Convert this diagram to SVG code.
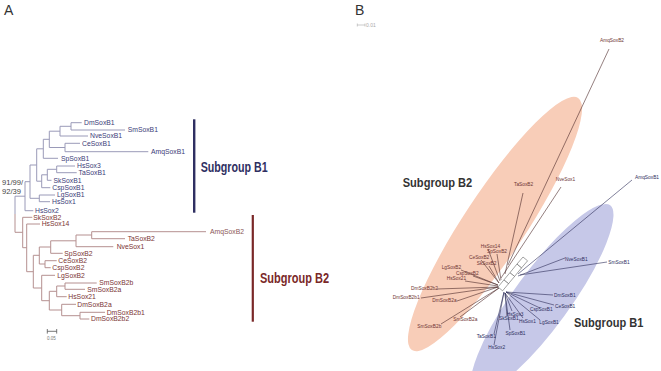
<svg xmlns="http://www.w3.org/2000/svg" width="661" height="371" viewBox="0 0 661 371">
<style>
text{font-family:"Liberation Sans",Arial,sans-serif}
.pl{font-size:14px;fill:#333}
.t1{font-size:6.8px;fill:#3b3b78}
.t2{font-size:6.8px;fill:#7b3434}
.bs{font-size:7.6px;fill:#444}
.l1{fill:none;stroke:#9a9ab8;stroke-width:1}
.l2{fill:none;stroke:#b59090;stroke-width:1}
.sg1{font-size:14px;font-weight:bold;fill:#2f2f62}
.sg2{font-size:14px;font-weight:bold;fill:#7a2828}
.ns{font-size:12px;font-weight:bold;fill:#333}
.n1{font-size:4.8px;fill:#2e2e5e}
.n2{font-size:4.8px;fill:#6e3434}
.c1{fill:none;stroke:#2c2c58;stroke-width:0.6}
.c2{fill:none;stroke:#4e2a2a;stroke-width:0.6}
.box{fill:#fff;stroke:#444;stroke-width:0.5}
</style>
<rect width="661" height="371" fill="#fff"/>
<text class="pl" x="4" y="15">A</text>
<text class="pl" x="355" y="15">B</text>

<!-- Panel A connectors -->
<g id="tree-connectors">
<path class="l1" d="M71,122.7V130M71,122.7H81.7M71,130H125M60,126.3H71M60,126.3V136H88M65,143.3V151.7M65,143.3H80M65,151.7H148.3M49.3,131.2H60M49.3,131.2V147.5H65M43.3,139.3H49.3M43.3,139.3V158.3H58M56.7,166V172.7M56.7,166H75M56.7,172.7H76.7M47.3,169.3H56.7M47.3,169.3V180.3H51.5M41.7,174.8H47.3M41.7,174.8V187.7H50.3M36.7,148.8H43.3M36.7,148.8V181.2H41.7M39.3,195V201.7M39.3,195H55M39.3,201.7H50M30,165H36.7M30,165V198.3H39.3M25,181.7H30M25,181.7V210.7H33.3M15,196.2H25M15,196.2V214"/>
<path class="l2" d="M15,214V232.3H22.7M22.7,217.3V247.7M22.7,217.3H32.3M22.7,247.7H26.7M26.7,224V271.7M26.7,224H40M26.7,271.7H33.3M33.3,255.3V288M33.3,255.3H39.3M39.3,247V264M39.3,247H50.7M50.7,240.8V253.3M50.7,253.3H62.7M50.7,240.8H76M76,235V246.7M76,246.7H113.3M76,235H91.7M91.7,231.7V238.7M91.7,238.7H125M91.7,231.7H206M39.3,264H45M45,260.7V267.7M45,260.7H56.7M45,267.7H50.7M33.3,288H41.7M41.7,275.3V300.7M41.7,275.3H55M41.7,300.7H49.3M49.3,291.3V310M49.3,291.3H56.7M56.7,286V296.7M56.7,296.7H66.7M56.7,286H65M65,283V289.3M65,283H96.7M65,289.3H85M49.3,310H61.7M61.7,304.3V315.7M61.7,304.3H76M61.7,315.7H80M80,312.3V319M80,312.3H105M80,319H89.3"/>
<path d="M47.3,331.3H56.7M47.3,329V333.6M56.7,329V333.6" stroke="#555" stroke-width="0.8" fill="none"/>
</g>
<text x="47" y="339.5" font-size="4.5" fill="#777" font-family="Liberation Sans, sans-serif">0.05</text>
<text class="bs" x="2" y="184.5">91/99/</text>
<text class="bs" x="2" y="194">92/39</text>

<!-- Panel A leaves -->
<g id="a-DmSoxB1"><text class="t1" x="84" y="125.1">DmSoxB1</text></g>
<g id="a-SmSoxB1"><text class="t1" x="127.7" y="132.4">SmSoxB1</text></g>
<g id="a-NveSoxB1"><text class="t1" x="90" y="138.4">NveSoxB1</text></g>
<g id="a-CeSoxB1"><text class="t1" x="82" y="145.7">CeSoxB1</text></g>
<g id="a-AmqSoxB1"><text class="t1" x="151" y="154.1">AmqSoxB1</text></g>
<g id="a-SpSoxB1"><text class="t1" x="61" y="160.7">SpSoxB1</text></g>
<g id="a-HsSox3"><text class="t1" x="77" y="168.4">HsSox3</text></g>
<g id="a-TaSoxB1"><text class="t1" x="78.5" y="175.1">TaSoxB1</text></g>
<g id="a-SkSoxB1"><text class="t1" x="53.5" y="182.7">SkSoxB1</text></g>
<g id="a-CspSoxB1"><text class="t1" x="52.3" y="190.1">CspSoxB1</text></g>
<g id="a-LgSoxB1"><text class="t1" x="57" y="197.4">LgSoxB1</text></g>
<g id="a-HsSox1"><text class="t1" x="52" y="204.1">HsSox1</text></g>
<g id="a-HsSox2"><text class="t1" x="35" y="213.1">HsSox2</text></g>
<g id="a-SkSoxB2"><text class="t2" x="33.3" y="219.7">SkSoxB2</text></g>
<g id="a-HsSox14"><text class="t2" x="41.7" y="226.4">HsSox14</text></g>
<g id="a-AmqSoxB2"><text class="t2" x="210" y="234.1" style="fill:#8a5555">AmqSoxB2</text></g>
<g id="a-TaSoxB2"><text class="t2" x="127.7" y="241.1">TaSoxB2</text></g>
<g id="a-NveSox1"><text class="t2" x="116.7" y="249.1">NveSox1</text></g>
<g id="a-SpSoxB2"><text class="t2" x="64.3" y="255.7">SpSoxB2</text></g>
<g id="a-CeSoxB2"><text class="t2" x="58.3" y="263.1">CeSoxB2</text></g>
<g id="a-CspSoxB2"><text class="t2" x="52.3" y="270.1">CspSoxB2</text></g>
<g id="a-LgSoxB2"><text class="t2" x="57.3" y="277.7">LgSoxB2</text></g>
<g id="a-SmSoxB2b"><text class="t2" x="99.3" y="285.4">SmSoxB2b</text></g>
<g id="a-SmSoxB2a"><text class="t2" x="87.3" y="291.7">SmSoxB2a</text></g>
<g id="a-HsSox21"><text class="t2" x="68.3" y="299.1">HsSox21</text></g>
<g id="a-DmSoxB2a"><text class="t2" x="77.3" y="306.7">DmSoxB2a</text></g>
<g id="a-DmSoxB2b1"><text class="t2" x="106.7" y="314.7">DmSoxB2b1</text></g>
<g id="a-DmSoxB2b2"><text class="t2" x="91" y="321.4">DmSoxB2b2</text></g>

<g id="a-group-B1">
<rect x="193" y="119.3" width="2.4" height="93.4" fill="#2f2f62"/>
<text class="sg1" x="200.7" y="171.7" textLength="67" lengthAdjust="spacingAndGlyphs">Subgroup B1</text>
</g>
<g id="a-group-B2">
<rect x="251.7" y="215" width="2.2" height="106.7" fill="#7a2828"/>
<text class="sg2" x="260" y="283.3" textLength="69" lengthAdjust="spacingAndGlyphs">Subgroup B2</text>
</g>

<!-- Panel B -->
<path d="M357.3,25H365M357.3,23.5V26.5M365,23.5V26.5" stroke="#aaa" stroke-width="0.6" fill="none"/>
<text x="366" y="26.8" font-size="5" fill="#aaa" font-family="Liberation Sans, sans-serif">0.01</text>

<g id="b-area-B2"><ellipse cx="495" cy="224" rx="151" ry="31" transform="rotate(-56.6 495 224)" fill="#f8cdb8"/></g>
<g id="b-area-B1"><ellipse cx="542" cy="299" rx="118" ry="30" transform="rotate(-54 542 299)" fill="#c6c8e8" stroke="#fff" stroke-width="4"/></g>

<g id="network-connectors">
<polygon class="box" points="498,287 504,279.8 508.6,283.6 502.6,290.8"/>
<polygon class="box" points="504,279.8 510,272.6 514.6,276.4 508.6,283.6"/>
<polygon class="box" points="510,272.6 517,264 521.6,267.8 514.6,276.4"/>
<polygon class="box" points="517,264 523,257 527.6,260.8 521.6,267.8"/>
<path class="c2" d="M508,265L609,49M505,274L523,193M501,278L561,187M500,281L488,249M501,280L497,254M499,283L481,260M499,283L489,266M498,285L461,270M498,285L473,276M498,286L465,281M498,287L437,289M498,287L421,298M498,287L457,301M499,288L460,317M499,288L441,324"/>
<path class="c1" d="M518,274L632,180M518,276L565,258M520,275L607,262M506,292L553,295M506,292L554,305M506,292L540,308M506,292L540,320M505,293L523,318M505,293L512,311M505,293L507,316M505,293L510,330M504,292L494,334M504,292L494,345"/>
</g>

<g id="b-AmqSoxB2"><text class="n2" x="600" y="42.4">AmqSoxB2</text></g>
<g id="b-TaSoxB2"><text class="n2" x="514" y="185.7">TaSoxB2</text></g>
<g id="b-NveSox1"><text class="n2" x="555.7" y="181">NveSox1</text></g>
<g id="b-HsSox14"><text class="n2" x="480.7" y="247.7">HsSox14</text></g>
<g id="b-SpSoxB2"><text class="n2" x="487" y="252.7">SpSoxB2</text></g>
<g id="b-CeSoxB2"><text class="n2" x="469" y="259">CeSoxB2</text></g>
<g id="b-SkSoxB2"><text class="n2" x="476.7" y="265">SkSoxB2</text></g>
<g id="b-LgSoxB2"><text class="n2" x="441.7" y="269.4">LgSoxB2</text></g>
<g id="b-CspSoxB2"><text class="n2" x="456" y="275">CspSoxB2</text></g>
<g id="b-HsSox21"><text class="n2" x="446.7" y="280">HsSox21</text></g>
<g id="b-DmSoxB2b2"><text class="n2" x="411" y="290">DmSoxB2b2</text></g>
<g id="b-DmSoxB2b1"><text class="n2" x="392.7" y="299">DmSoxB2b1</text></g>
<g id="b-DmSoxB2a"><text class="n2" x="432.3" y="301.7">DmSoxB2a</text></g>
<g id="b-SmSoxB2a"><text class="n2" x="453.3" y="321">SmSoxB2a</text></g>
<g id="b-SmSoxB2b"><text class="n2" x="417.3" y="327.7">SmSoxB2b</text></g>

<g id="b-AmqSoxB1"><text class="n1" x="635" y="179">AmqSoxB1</text></g>
<g id="b-NveSoxB1"><text class="n1" x="565" y="261">NveSoxB1</text></g>
<g id="b-SmSoxB1"><text class="n1" x="608.3" y="264">SmSoxB1</text></g>
<g id="b-DmSoxB1"><text class="n1" x="554" y="297">DmSoxB1</text></g>
<g id="b-CeSoxB1"><text class="n1" x="555" y="307.7">CeSoxB1</text></g>
<g id="b-CspSoxB1"><text class="n1" x="530" y="311">CspSoxB1</text></g>
<g id="b-LgSoxB1"><text class="n1" x="539.3" y="324">LgSoxB1</text></g>
<g id="b-HsSox1"><text class="n1" x="519" y="323.4">HsSox1</text></g>
<g id="b-HsSox3"><text class="n1" x="506.7" y="315.7">HsSox3</text></g>
<g id="b-SkSoxB1"><text class="n1" x="499" y="320.2">SkSoxB1</text></g>
<g id="b-SpSoxB1"><text class="n1" x="505.5" y="335">SpSoxB1</text></g>
<g id="b-TaSoxB1"><text class="n1" x="476.7" y="338.4">TaSoxB1</text></g>
<g id="b-HsSox2"><text class="n1" x="488.3" y="349.4">HsSox2</text></g>

<g id="b-label-B2"><text class="ns" x="402.7" y="187" textLength="69.6" lengthAdjust="spacingAndGlyphs">Subgroup B2</text></g>
<g id="b-label-B1"><text class="ns" x="574" y="327" textLength="69.3" lengthAdjust="spacingAndGlyphs">Subgroup B1</text></g>
</svg>
